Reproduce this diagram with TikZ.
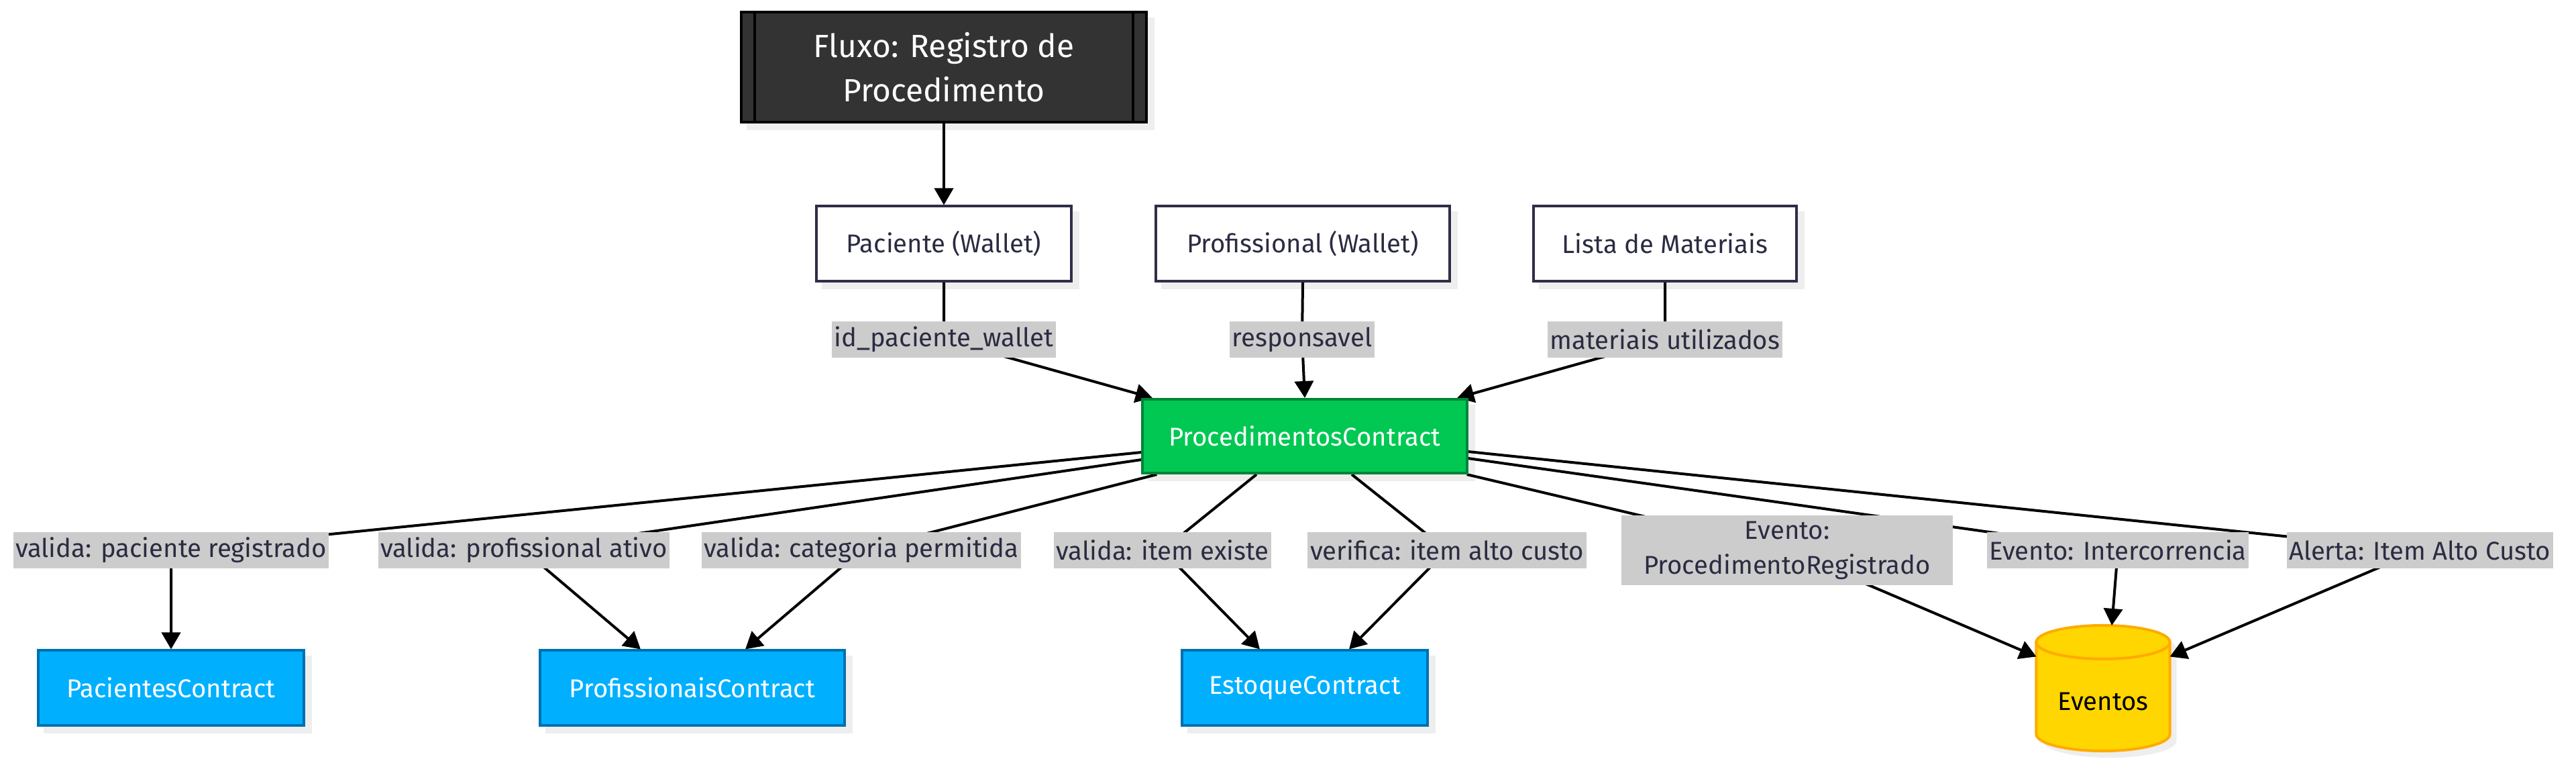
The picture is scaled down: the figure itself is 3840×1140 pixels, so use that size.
\documentclass[tikz,border=0pt]{standalone}
\usepackage{fontspec}
\setmainfont{Fira Sans}
\usetikzlibrary{arrows.meta,calc}
\definecolor{navy}{HTML}{2B2B42}
\definecolor{bordernavy}{HTML}{2E2E48}
\definecolor{lblbg}{HTML}{CCCCCC}
\definecolor{shad}{HTML}{EEEEEE}
\definecolor{procfill}{HTML}{00C853}
\definecolor{procdraw}{HTML}{00843A}
\definecolor{bluefill}{HTML}{00B0FF}
\definecolor{bluedraw}{HTML}{0070B0}
\definecolor{evfill}{HTML}{FFD600}
\definecolor{evdraw}{HTML}{FFAB00}
\definecolor{titlefill}{HTML}{333333}
\pgfdeclarelayer{shadowlayer}
\pgfdeclarelayer{shapelayer}
\pgfdeclarelayer{edgelayer}
\pgfsetlayers{shadowlayer,shapelayer,edgelayer,main}
\newcommand{\boxshadow}[1]{\fill[shad] ([shift={(0.1cm,-0.1cm)}]#1.south west) rectangle ([shift={(0.1cm,-0.1cm)}]#1.north east);}
\newcommand{\cylpath}[1]{($(ev.north west)+(0,-0.25cm)+#1$) -- ($(ev.south west)+(0,0.25cm)+#1$) arc[start angle=180,end angle=360,x radius=0.995cm,y radius=0.25cm] -- ($(ev.north east)+(0,-0.25cm)+#1$) arc[start angle=0,end angle=180,x radius=0.995cm,y radius=0.25cm] -- cycle}
\tikzset{
 base/.style={rectangle, inner sep=0pt, line width=0.04cm, font=\fontsize{10.9}{14}\selectfont, align=center},
 wallet/.style={base, draw=bordernavy, fill=white, text=navy, minimum height=1.11cm},
 procbox/.style={base, draw=procdraw, fill=procfill, text=white, minimum height=1.10cm},
 bluebox/.style={base, draw=bluedraw, fill=bluefill, text=white, minimum height=1.11cm},
 titlebox/.style={base, draw=black, fill=titlefill, text=white, font=\fontsize{13.6}{18.8}\selectfont, minimum width=6.04cm, minimum height=1.63cm},
 lbl/.style={rectangle, fill=lblbg, text=navy, inner xsep=1pt, inner ysep=0pt, minimum height=0.53cm, font=\fontsize{10.9}{14.8}\selectfont, align=center},
 conn/.style={line width=0.04cm, black, line join=round, -{Triangle[length=0.25cm,width=0.28cm]}},
 subline/.style={line width=0.04cm, black},
}
\begin{document}
\begin{tikzpicture}[x=0.01cm,y=0.01cm]
\begin{pgfonlayer}{shadowlayer}
\path[fill=white, use as bounding box] (0,0) rectangle (3840,-1140);
\end{pgfonlayer}
% nodes
\node[titlebox] (title) at (1407,-100) {Fluxo: Registro de\\Procedimento};
\draw[subline] ([xshift=0.22cm]title.north west) -- ([xshift=0.22cm]title.south west);
\draw[subline] ([xshift=-0.22cm]title.north east) -- ([xshift=-0.22cm]title.south east);
\node[wallet, minimum width=3.80cm] (pacw) at (1407,-363) {Paciente (Wallet)};
\node[wallet, minimum width=4.37cm] (profw) at (1942,-363) {Profissional (Wallet)};
\node[wallet, minimum width=3.92cm] (lista) at (2482,-363) {Lista de Materiais};
\node[procbox, minimum width=4.83cm] (proc) at (1945,-650) {ProcedimentosContract};
\node[bluebox, minimum width=3.95cm] (pac) at (255,-1025) {PacientesContract};
\node[bluebox, minimum width=4.54cm] (prof) at (1032,-1025) {ProfissionaisContract};
\node[bluebox, minimum width=3.65cm] (est) at (1945,-1025) {EstoqueContract};
\node[base, minimum width=1.99cm, minimum height=1.87cm, outer sep=0pt,
      label={[name=evtext, text=black, font=\fontsize{10.9}{14}\selectfont, yshift=-0.2cm]center:Eventos}] (ev) at (3135,-1025.5) {};
% labels
\node[lbl] (lidp) at (1407,-506) {id\_paciente\_wallet};
\node[lbl] (lresp) at (1941,-506) {responsavel};
\node[lbl] (lmat) at (2482,-506) {materiais utilizados};
\node[lbl] (lpr) at (255,-820) {valida: paciente registrado};
\node[lbl] (lpa) at (781,-820) {valida: profissional ativo};
\node[lbl] (lcat) at (1284,-820) {valida: categoria permitida};
\node[lbl] (lie) at (1733,-820) {valida: item existe};
\node[lbl] (liac) at (2157,-820) {verifica: item alto custo};
\node[lbl, text width=4.87cm, minimum height=1.04cm] (lepr) at (2664,-820) {Evento:\\ProcedimentoRegistrado};
\node[lbl] (lint) at (3157,-820) {Evento: Intercorrencia};
\node[lbl] (lalt) at (3607,-820) {Alerta: Item Alto Custo};
% shadows
\begin{pgfonlayer}{shadowlayer}
\boxshadow{title}
\boxshadow{pacw}
\boxshadow{profw}
\boxshadow{lista}
\boxshadow{proc}
\boxshadow{pac}
\boxshadow{prof}
\boxshadow{est}
\fill[shad] \cylpath{(0.1cm,-0.1cm)};
\end{pgfonlayer}
% cylinder
\begin{pgfonlayer}{shapelayer}
\filldraw[fill=evfill, draw=evdraw, line width=0.04cm] \cylpath{(0,0)};
\draw[evdraw, line width=0.04cm] ($(ev.north west)+(0,-0.25cm)$) arc[start angle=180,end angle=360,x radius=0.995cm,y radius=0.25cm];
\end{pgfonlayer}
% edges
\begin{pgfonlayer}{edgelayer}
\draw[conn] (title.south) -- (pacw.north);
\draw[conn] (pacw.south) -- (lidp.center) -- ([xshift=-2.27cm]proc.north);
\draw[conn] (profw.south) -- (lresp.center) -- (proc.north);
\draw[conn] (lista.south) -- (lmat.center) -- ([xshift=2.27cm]proc.north);
\draw[conn] ([yshift=-0.24cm]proc.west) -- (lpr.center) -- (pac.north);
\draw[conn] ([yshift=-0.35cm]proc.west) -- (lpa.center) -- ([xshift=-0.77cm]prof.north);
\draw[conn] ([xshift=0.23cm]proc.south west) -- (lcat.center) -- ([xshift=0.79cm]prof.north);
\draw[conn] ([xshift=-0.72cm]proc.south) -- (lie.center) -- ([xshift=-0.67cm]est.north);
\draw[conn] ([xshift=0.70cm]proc.south) -- (liac.center) -- ([xshift=0.66cm]est.north);
\draw[conn] ([xshift=-0.02cm]proc.south east) -- (lepr.center) -- ([yshift=0.47cm]ev.west);
\draw[conn] ([yshift=-0.33cm]proc.east) -- (lint.center) -- ([xshift=0.13cm]ev.north);
\draw[conn] ([yshift=-0.23cm]proc.east) -- (lalt.center) -- ([yshift=0.47cm]ev.east);
\end{pgfonlayer}
\end{tikzpicture}
\end{document}
